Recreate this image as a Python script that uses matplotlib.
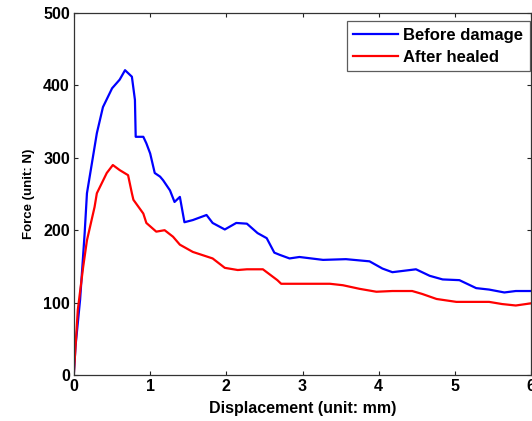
import matplotlib.pyplot as plt

plt.rcParams['font.family'] = ['Liberation Sans', 'DejaVu Sans']
plt.rcParams['font.weight'] = 'bold'

# Before damage (blue)
x_before = [0.0, 0.02, 0.08, 0.14, 0.17, 0.30, 0.38, 0.50, 0.60, 0.67, 0.76, 0.80, 0.81,
            0.91, 0.95, 1.0, 1.06, 1.13, 1.17, 1.26, 1.32, 1.39, 1.45, 1.56, 1.74,
            1.82, 1.98, 2.13, 2.27, 2.41, 2.53, 2.63, 2.70, 2.83, 2.96, 3.27, 3.57,
            3.88, 4.05, 4.18, 4.49, 4.67, 4.84, 5.06, 5.28, 5.45, 5.65, 5.80, 6.0]
y_before = [5, 40, 104, 196, 251, 334, 370, 396, 408, 421, 412, 380, 329,
            329, 320, 306, 279, 274, 269, 255, 239, 246, 211, 214, 221,
            210, 201, 210, 209, 196, 189, 169, 166, 161, 163, 159, 160,
            157, 147, 142, 146, 137, 132, 131, 120, 118, 114, 116, 116]

# After healed (red)
x_after = [0.0, 0.02, 0.05, 0.12, 0.17, 0.27, 0.30, 0.43, 0.51, 0.60, 0.71, 0.76,
           0.78, 0.91, 0.95, 1.08, 1.19, 1.30, 1.39, 1.56, 1.82, 1.98, 2.15, 2.27,
           2.48, 2.67, 2.72, 3.36, 3.53, 3.75, 3.97, 4.18, 4.44, 4.57, 4.76, 5.02,
           5.45, 5.62, 5.80, 6.0]
y_after = [5, 39, 90, 149, 186, 232, 251, 279, 290, 283, 276, 251,
           242, 223, 210, 198, 200, 191, 180, 170, 161, 148, 145, 146,
           146, 131, 126, 126, 124, 119, 115, 116, 116, 112, 105, 101,
           101, 98, 96, 99]

fig = plt.figure(figsize=(5.32, 4.21), dpi=100)
ax = fig.add_axes([74 / 532, 46 / 421, 457 / 532, 362 / 421])

ax.plot(x_before, y_before, color='#0000ff', linewidth=1.6, label='Before damage')
ax.plot(x_after, y_after, color='#ff0000', linewidth=1.6, label='After healed')

ax.set_xlim(0, 6)
ax.set_ylim(0, 500)
ax.set_xticks([0, 1, 2, 3, 4, 5, 6])
ax.set_yticks([0, 100, 200, 300, 400, 500])
ax.tick_params(direction='in', length=3, width=0.8, top=True, right=True,
               labelsize=11.5, pad=3, colors='#222222', labelcolor='black')
for lab in ax.get_xticklabels() + ax.get_yticklabels():
    lab.set_fontweight('bold')
for s in ax.spines.values():
    s.set_color('#333333')
    s.set_linewidth(0.9)

ax.set_xlabel('Displacement (unit: mm)', fontsize=11.5, fontweight='bold', labelpad=5)
ax.set_ylabel('Force (unit: N)', fontsize=9.5, fontweight='bold', labelpad=6)

leg = ax.legend(loc='upper right', bbox_to_anchor=(1 - 1 / 457, 1 - 8 / 362),
                borderaxespad=0, fontsize=12, frameon=True, fancybox=False,
                handlelength=2.7, handletextpad=0.3, borderpad=0.4,
                labelspacing=0.42)
leg.get_frame().set_edgecolor('#333333')
leg.get_frame().set_linewidth(0.9)
for t in leg.get_texts():
    t.set_fontweight('bold')

fig.savefig('out.png', dpi=100)
